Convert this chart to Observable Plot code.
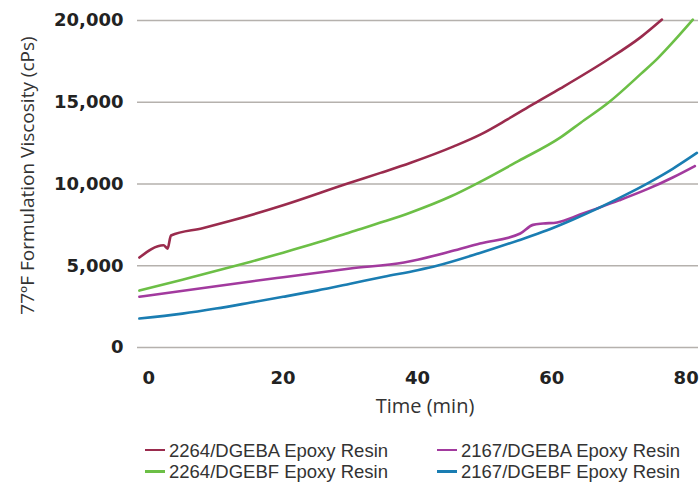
<!DOCTYPE html>
<html>
<head>
<meta charset="utf-8">
<script src="https://cdn.jsdelivr.net/npm/d3@7"></script>
<script src="https://cdn.jsdelivr.net/npm/@observablehq/plot@0.6"></script>
<style>
  html, body { margin: 0; padding: 0; background: #fff; }
  #wrap { width: 700px; position: relative; }
  .legend { position: relative; height: 56px; font-family: "Liberation Sans", Arial, sans-serif; font-size: 18.5px; color: #333; }
  .item { position: absolute; display: flex; align-items: center; white-space: nowrap; height: 21px; }
  .item .tx { display: inline-block; line-height: 21px; height: 21px; }
  .sw { display: inline-block; width: 20px; height: 2.5px; margin-right: 4px; }
  svg g[aria-label$="tick label"] text { font-weight: bold; }
</style>
</head>
<body>
<div id="wrap"></div>
<script>
// Series names
const seriesNames = ["2264/DGEBA Epoxy Resin", "2264/DGEBF Epoxy Resin", "2167/DGEBA Epoxy Resin", "2167/DGEBF Epoxy Resin"];
const seriesColors = ["#9a2b4d", "#6cbf46", "#a23a9e", "#1a7db2"];

// 2264/DGEBA
const t2264A = [-1.4, 2.2, 2.8, 3.3, 8, 12.2, 20, 29.6, 34.5, 39, 45.4, 49.5, 53.4, 57.3, 61.3, 68.3, 73.3, 76.4];
const v2264A = [5500, 6250, 6050, 6850, 7300, 7750, 8700, 10030, 10680, 11300, 12300, 13050, 13950, 14900, 15850, 17600, 19000, 20060];

// 2264/DGEBF
const t2264F = [-1.4, 5, 12.5, 15.2, 20, 25, 30, 35, 39, 45, 49.4, 55, 61.3, 64.3, 68.5, 73.3, 75.8, 78.2, 81];
const v2264F = [3480, 4150, 4950, 5250, 5800, 6400, 7050, 7700, 8260, 9250, 10150, 11400, 12850, 13750, 15000, 16750, 17700, 18750, 20050];

// 2167/DGEBA
const t2167A = [-1.4, 10, 15.2, 20, 30, 38, 45, 49.3, 55.3, 57.2, 58.7, 60.8, 64.2, 66.7, 70, 74.3, 78, 81.3];
const v2167A = [3100, 3750, 4040, 4300, 4830, 5200, 5880, 6360, 6970, 7500, 7580, 7650, 8130, 8500, 9000, 9700, 10400, 11100];

// 2167/DGEBF
const t2167F = [-1.4, 5, 10, 15.2, 20, 25, 30, 35, 40, 42.9, 49.3, 55, 59.3, 63, 66.7, 72, 74.6, 78, 81.6];
const v2167F = [1770, 2070, 2380, 2750, 3100, 3480, 3900, 4330, 4730, 5000, 5780, 6550, 7170, 7800, 8480, 9550, 10120, 10930, 11900];

// Ticks
const xTicks = [0, 20, 40, 60, 80];
const yTicks = [0, 5000, 10000, 15000, 20000];

const seriesT = [t2264A, t2264F, t2167A, t2167F];
const seriesV = [v2264A, v2264F, v2167A, v2167F];
const rows = [];
seriesNames.forEach((name, i) => {
  seriesT[i].forEach((t, j) => rows.push({series: name, t, v: seriesV[i][j]}));
});

const chart = Plot.plot({
  width: 700,
  height: 430,
  marginLeft: 137,
  marginRight: 2,
  marginTop: 20,
  marginBottom: 83,
  style: {background: "white", fontFamily: "Open Sans, sans-serif", color: "#333"},
  x: {domain: [-1.68, 81.84]},
  y: {domain: [0, 20000]},
  color: {domain: seriesNames, range: seriesColors},
  marks: [
    Plot.ruleY(yTicks, {stroke: "#b5b1ad", strokeWidth: 1.6}),
    Plot.axisY({ticks: yTicks, tickSize: 0, tickPadding: 14, tickFormat: d3.format(","), label: null,
      fontSize: 18, fontWeight: "bold", fontFamily: "DejaVu Sans, sans-serif", fill: "#222"}),
    Plot.axisX({ticks: xTicks, tickSize: 0, tickPadding: 24, label: null,
      fontSize: 18, fontWeight: "bold", fontFamily: "DejaVu Sans, sans-serif", fill: "#222"}),
    Plot.line(rows, {x: "t", y: "v", z: "series", stroke: "series", strokeWidth: 2.6, curve: "monotone-x"}),
    Plot.text(["Time (min)"], {frameAnchor: "bottom", textAnchor: "middle", dx: 7, dy: 65, fontSize: 20, fill: "#333", fontFamily: "Open Sans, sans-serif"}),
    Plot.text(["77ºF Formulation Viscosity (cPs)"], {frameAnchor: "left", textAnchor: "middle", lineAnchor: "middle", rotate: -90, dx: -110, dy: -8.5, fontSize: 19, fill: "#333", fontFamily: "Open Sans, sans-serif"})
  ]
});

const wrap = document.getElementById("wrap");
wrap.appendChild(chart);

const legend = document.createElement("div");
legend.className = "legend";
const pos = [[145, 0], [145, 21.5], [437, 0], [437, 21.5]];
[0, 1, 2, 3].forEach((i) => {
  const it = document.createElement("div");
  it.className = "item";
  it.style.left = pos[i][0] + "px";
  it.style.top = (pos[i][1] + 9.5) + "px";
  const sw = document.createElement("span");
  sw.className = "sw";
  sw.style.background = seriesColors[i];
  const tx = document.createElement("span");
  tx.className = "tx";
  tx.textContent = seriesNames[i];
  it.appendChild(sw);
  it.appendChild(tx);
  legend.appendChild(it);
});
wrap.appendChild(legend);
</script>
</body>
</html>
